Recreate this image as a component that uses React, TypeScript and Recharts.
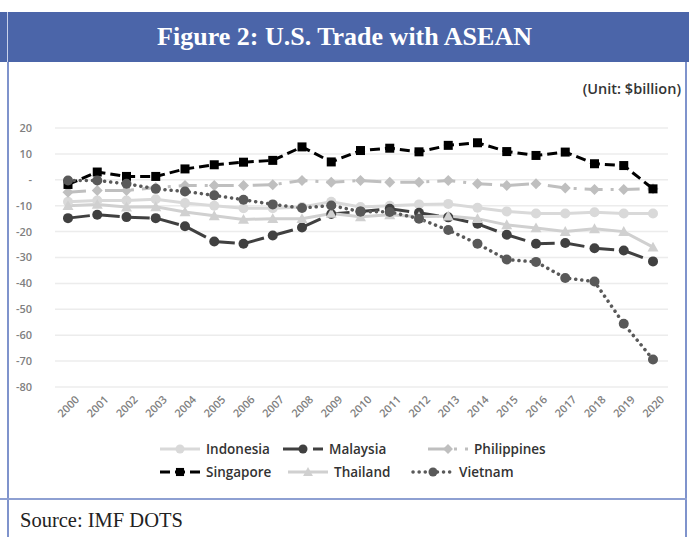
import { LineChart, Line, XAxis, YAxis, CartesianGrid } from 'recharts';

const years = [
  '2000', '2001', '2002', '2003', '2004', '2005', '2006', '2007', '2008', '2009', '2010',
  '2011', '2012', '2013', '2014', '2015', '2016', '2017', '2018', '2019', '2020',
];

const indonesia = [-8.5, -8, -8, -7.5, -9, -10, -11, -11, -10.5, -8.5, -10.5, -10, -9.5, -9.3, -10.8, -12.2, -13, -13, -12.5, -13, -13];
const malaysia = [-14.8, -13.5, -14.4, -14.8, -17.9, -23.8, -24.7, -21.5, -18.4, -13.2, -12.2, -11.2, -12.7, -14.5, -17, -21.2, -24.7, -24.4, -26.4, -27.3, -31.5];
const philippines = [-4.8, -4.1, -4.1, -3, -2.2, -2.2, -2.2, -1.9, -0.3, -0.9, -0.3, -0.9, -0.9, -0.3, -1.5, -2.2, -1.5, -3.2, -3.7, -3.7, -3.5];
const singapore = [-1.8, 3, 1.3, 1.3, 4.2, 5.8, 6.8, 7.5, 12.7, 6.9, 11.3, 12.2, 10.8, 13.3, 14.3, 10.9, 9.4, 10.7, 6.2, 5.5, -3.5];
const thailand = [-10, -9.5, -10.5, -10.4, -12.4, -13.9, -15.3, -15, -15, -13, -14.3, -13.5, -14.3, -14, -15, -17.4, -18.6, -20, -18.9, -20, -26];
const vietnam = [-0.3, -0.3, -1.5, -3.5, -4.5, -6, -7.7, -9.5, -10.9, -9.9, -12.3, -12.4, -15, -19.4, -24.7, -30.8, -31.7, -37.9, -39.3, -55.6, -69.4];

const yTicks = [20, 10, 0, -10, -20, -30, -40, -50, -60, -70, -80];

const data = years.map((year, i) => ({
  year,
  Indonesia: indonesia[i],
  Malaysia: malaysia[i],
  Philippines: philippines[i],
  Singapore: singapore[i],
  Thailand: thailand[i],
  Vietnam: vietnam[i],
}));

type Shape = 'circle' | 'square' | 'diamond' | 'triangle';

const series: { key: string; color: string; dash?: string; width: number; shape: Shape; size: number; cap?: 'round' | 'butt' }[] = [
  { key: 'Indonesia', color: '#d9d9d9', width: 3, shape: 'circle', size: 5 },
  { key: 'Malaysia', color: '#404040', dash: '22 8', width: 3, shape: 'circle', size: 5 },
  { key: 'Philippines', color: '#bfbfbf', dash: '18 8 3 8', width: 3, shape: 'diamond', size: 5.5 },
  { key: 'Singapore', color: '#000000', dash: '10 5', width: 3, shape: 'square', size: 4.5 },
  { key: 'Thailand', color: '#d0d0d0', width: 3, shape: 'triangle', size: 5.5 },
  { key: 'Vietnam', color: '#595959', dash: '0.1 6', width: 3.5, shape: 'circle', size: 5, cap: 'round' },
];

function marker(shape: Shape, cx: number, cy: number, s: number, color: string, key?: any) {
  if (shape === 'square') return <rect key={key} x={cx - s} y={cy - s} width={s * 2} height={s * 2} fill={color} />;
  if (shape === 'diamond')
    return <polygon key={key} points={`${cx},${cy - s} ${cx + s},${cy} ${cx},${cy + s} ${cx - s},${cy}`} fill={color} />;
  if (shape === 'triangle')
    return <polygon key={key} points={`${cx},${cy - s} ${cx + s},${cy + s * 0.8} ${cx - s},${cy + s * 0.8}`} fill={color} />;
  return <circle key={key} cx={cx} cy={cy} r={s} fill={color} />;
}

function YearTick(props: any) {
  const { x, y, payload } = props;
  const cy = y + 11;
  return (
    <text
      x={x}
      y={cy}
      textAnchor="middle"
      dominantBaseline="central"
      transform={`rotate(-45, ${x}, ${cy})`}
      fontSize={11}
      fontWeight={600}
      fill="#7f7f7f"
      fontFamily="Open Sans"
    >
      {payload.value}
    </text>
  );
}

function LegendBox() {
  const rows = [
    [
      { s: series[0], x: 160 },
      { s: series[1], x: 283 },
      { s: series[2], x: 428 },
    ],
    [
      { s: series[3], x: 160 },
      { s: series[4], x: 288 },
      { s: series[5], x: 413 },
    ],
  ];
  return (
    <svg width={689} height={60} style={{ display: 'block' }}>
      {rows.map((row, ri) =>
        row.map(({ s, x }) => {
          const y = 12 + ri * 23;
          return (
            <g key={s.key}>
              <line
                x1={x}
                x2={x + 40}
                y1={y}
                y2={y}
                stroke={s.color}
                strokeWidth={s.width}
                strokeDasharray={s.dash}
                strokeLinecap={s.cap ?? 'butt'}
              />
              {marker(s.shape, x + 20, y, s.size * 0.9, s.color)}
              <text x={x + 46} y={y} dominantBaseline="central" fontSize={13.5} fill="#333" fontWeight={600} fontFamily="Open Sans">
                {s.key}
              </text>
            </g>
          );
        })
      )}
    </svg>
  );
}

export default function App() {
  return (
    <div style={{ position: 'absolute', left: 0, top: 0, width: 689, height: 537, background: '#fff', overflow: 'hidden' }}>
      <div
        style={{
          position: 'absolute',
          left: 0,
          top: 12,
          width: 689,
          height: 50,
          background: '#4b65a9',
          color: '#fff',
          fontFamily: 'Liberation Serif',
          fontWeight: 700,
          fontSize: 26,
          lineHeight: '50px',
          textAlign: 'center',
        }}
      >
        Figure 2: U.S. Trade with ASEAN
      </div>
      <div style={{ position: 'absolute', left: 7, top: 12, width: 1, height: 50, background: '#c9d1ea' }} />
      <div style={{ position: 'absolute', left: 7, top: 62, width: 2, height: 475, background: '#7f93cc' }} />
      <div style={{ position: 'absolute', left: 685, top: 62, width: 2, height: 475, background: '#7f93cc' }} />
      <div style={{ position: 'absolute', left: 0, top: 498, width: 687, height: 2, background: '#8ea0d2' }} />
      <div
        style={{
          position: 'absolute',
          right: 8,
          top: 79,
          fontFamily: 'Open Sans',
          fontWeight: 600,
          fontSize: 14.5,
          color: '#333',
        }}
      >
        (Unit: $billion)
      </div>
      <div style={{ position: 'absolute', left: 0, top: 0 }}>
        <LineChart width={689} height={430} data={data} margin={{ top: 128, right: 21, left: 10, bottom: 0 }}>
          <CartesianGrid vertical={false} stroke="#ececec" strokeWidth={1.5} />
          <XAxis
            dataKey="year"
            axisLine={false}
            tickLine={false}
            interval={0}
            height={43}
            padding={{ left: 13, right: 15 }}
            tick={<YearTick />}
          />
          <YAxis
            type="number"
            domain={[-80, 20]}
            ticks={yTicks}
            interval={0}
            axisLine={false}
            tickLine={false}
            width={45}
            tickMargin={17}
            tickFormatter={(v: number) => (v === 0 ? '-' : String(v))}
            tick={{ fontSize: 11, fontWeight: 600, fill: '#7f7f7f', fontFamily: 'Open Sans' }}
          />
          {series.map((s) => (
            <Line
              key={s.key}
              dataKey={s.key}
              type="linear"
              stroke={s.color}
              strokeWidth={s.width}
              strokeDasharray={s.dash}
              strokeLinecap={s.cap ?? 'butt'}
              isAnimationActive={false}
              dot={(p: any) => marker(s.shape, p.cx, p.cy, s.size, s.color, p.index)}
              activeDot={false}
            />
          ))}
        </LineChart>
      </div>
      <div style={{ position: 'absolute', left: 0, top: 437 }}>
        <LegendBox />
      </div>
      <div
        style={{
          position: 'absolute',
          left: 20,
          top: 509,
          fontFamily: 'Liberation Serif',
          fontSize: 20.5,
          color: '#222',
        }}
      >
        Source: IMF DOTS
      </div>
    </div>
  );
}
